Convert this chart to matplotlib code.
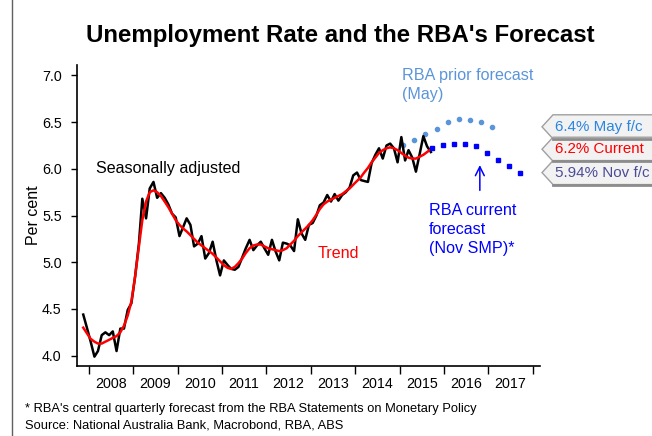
import matplotlib
matplotlib.use("Agg")
import matplotlib.pyplot as plt
import matplotlib.dates as mdates
from matplotlib.patches import Polygon
from matplotlib.transforms import IdentityTransform
from matplotlib.lines import Line2D
import pandas as pd

plt.rcParams['font.family'] = ['Liberation Sans', 'DejaVu Sans']

# monthly, Nov 2007 - Sep 2015 (per cent)
sa_rate = [
    4.44, 4.30,
    4.15, 3.99, 4.05, 4.22, 4.25, 4.22, 4.26, 4.05, 4.29, 4.29, 4.49, 4.56,
    4.85, 5.20, 5.68, 5.47, 5.79, 5.86, 5.69, 5.74, 5.69, 5.62, 5.52, 5.48,
    5.28, 5.38, 5.47, 5.40, 5.17, 5.20, 5.28, 5.04, 5.10, 5.22, 5.02, 4.86,
    5.02, 4.97, 4.93, 4.92, 4.95, 5.05, 5.15, 5.24, 5.13, 5.18, 5.22, 5.15,
    5.08, 5.24, 5.12, 5.02, 5.21, 5.20, 5.18, 5.12, 5.46, 5.31, 5.24, 5.40,
    5.42, 5.50, 5.61, 5.64, 5.72, 5.65, 5.73, 5.66, 5.72, 5.75, 5.80, 5.93,
    5.96, 5.88, 5.87, 5.86, 6.06, 6.15, 6.22, 6.11, 6.25, 6.27, 6.22, 6.07,
    6.34, 6.09, 6.20, 6.12, 5.97, 6.16, 6.35, 6.24, 6.18,
]
trend_rate = [
    4.30, 4.24,
    4.18, 4.15, 4.13, 4.13, 4.15, 4.17, 4.19, 4.21, 4.25, 4.32, 4.43, 4.58,
    4.85, 5.17, 5.45, 5.65, 5.75, 5.77, 5.75, 5.71, 5.65, 5.59, 5.52, 5.45,
    5.40, 5.36, 5.33, 5.29, 5.25, 5.21, 5.18, 5.15, 5.12, 5.09, 5.05, 5.01,
    4.97, 4.94, 4.93, 4.95, 4.99, 5.04, 5.10, 5.15, 5.18, 5.19, 5.19, 5.17,
    5.15, 5.14, 5.13, 5.12, 5.13, 5.15, 5.19, 5.23, 5.28, 5.32, 5.36, 5.40,
    5.45, 5.51, 5.57, 5.62, 5.65, 5.67, 5.69, 5.71, 5.73, 5.76, 5.79, 5.83,
    5.87, 5.91, 5.96, 6.01, 6.07, 6.12, 6.17, 6.20, 6.22, 6.23, 6.22, 6.20,
    6.17, 6.14, 6.12, 6.11, 6.11, 6.13, 6.15, 6.18, 6.21,
]
months = pd.date_range("2007-11-01", "2015-09-01", freq="MS") + pd.Timedelta(days=14)

# RBA quarterly forecasts
prior_fc = [6.25, 6.31, 6.37, 6.43, 6.50, 6.53, 6.52, 6.50, 6.45]
prior_dates = pd.date_range("2015-02-01", periods=9, freq="QS-FEB")
current_fc = [6.22, 6.26, 6.27, 6.27, 6.24, 6.17, 6.10, 6.03, 5.96]
current_dates = pd.date_range("2015-09-01", periods=9, freq="QS-SEP") + pd.Timedelta(days=20)

tag_labels = ["6.4% May f/c", "6.2% Current", "5.94% Nov f/c"]
tag_values = [prior_fc[-1], trend_rate[-1], current_fc[-1]]
tag_colors = ["#2a86e0", "#ff0000", "#4c4c96"]

prior_col = "#5b95d9"
current_col = "#0000ff"

fig = plt.figure(figsize=(6.52, 4.36), dpi=100)
ax = fig.add_axes([0.118, 0.1606, 0.710, 0.690])

ax.plot(months, sa_rate, color="black", lw=1.8, zorder=3)
ax.plot(months, trend_rate, color="#ff0000", lw=1.8, zorder=4)
ax.plot(prior_dates, prior_fc, ls="none", marker="o", ms=3.0, color=prior_col, zorder=2)
ax.plot(current_dates, current_fc, ls="none", marker="s", ms=3.0, color=current_col, zorder=5)

ax.set_ylim(3.89, 7.11)
ax.set_xlim(pd.Timestamp("2007-09-24"), pd.Timestamp("2018-02-28"))
ax.set_yticks([4.0, 4.5, 5.0, 5.5, 6.0, 6.5, 7.0])
ax.yaxis.set_major_formatter(plt.FormatStrFormatter("%.1f"))

ax.xaxis.set_major_locator(mdates.YearLocator())
ax.xaxis.set_major_formatter(plt.NullFormatter())
ax.xaxis.set_minor_locator(mdates.MonthLocator(bymonth=7))
ax.xaxis.set_minor_formatter(mdates.DateFormatter("%Y"))
ax.tick_params(axis="x", which="major", length=6, width=1, direction="out")
ax.tick_params(axis="x", which="minor", length=0, pad=8, labelsize=10.3)
ax.tick_params(axis="y", length=4, width=1, pad=7, labelsize=10.3)

for s in ["top", "right"]:
    ax.spines[s].set_visible(False)
for s in ["left", "bottom"]:
    ax.spines[s].set_linewidth(1.2)

ax.set_ylabel("Per cent", fontsize=11.5, labelpad=1)

fig.text(0.522, 0.918, "Unemployment Rate and the RBA's Forecast",
         ha="center", va="center", fontsize=17.3, fontweight="bold")

ax.text(pd.Timestamp("2008-02-25"), 6.0, "Seasonally adjusted", fontsize=11.6,
        va="center", ha="left")
ax.text(pd.Timestamp("2013-03-01"), 5.09, "Trend", fontsize=11.6, color="#ff0000",
        va="center", ha="left")
ax.text(pd.Timestamp("2015-01-20"), 7.08, "RBA prior forecast\n(May)", fontsize=11.6,
        color=prior_col, va="top", ha="left", linespacing=1.3)
ax.text(pd.Timestamp("2015-09-01"), 5.63, "RBA current\nforecast\n(Nov SMP)*",
        fontsize=11.6, color=current_col, va="top", ha="left", linespacing=1.3)
ax.annotate("", xy=(pd.Timestamp("2016-10-22"), 6.07),
            xytext=(pd.Timestamp("2016-10-22"), 5.74),
            arrowprops=dict(arrowstyle="->", color=current_col, lw=1.1,
                            mutation_scale=16))

# value tags on the right
fig.canvas.draw()
for label, val, col in zip(tag_labels, tag_values, tag_colors):
    yd = ax.transData.transform((0, val))[1]
    pts = [(542, yd), (553, yd + 12), (660, yd + 12), (660, yd - 12), (553, yd - 12)]
    fig.add_artist(Polygon(pts, closed=True, facecolor="#f2f2f2", edgecolor="#a0a0a0",
                           lw=1.0, transform=IdentityTransform()))
    fig.add_artist(Line2D([553, 660], [yd - 12, yd - 12], color="#8c8c8c", lw=2,
                          transform=IdentityTransform()))
    fig.text(555, yd, label, color=col, fontsize=10.9, va="center", ha="left",
             transform=IdentityTransform())

fig.text(0.038, 0.062, "* RBA's central quarterly forecast from the RBA Statements on Monetary Policy",
         fontsize=9.3, va="center", ha="left")
fig.text(0.038, 0.025, "Source: National Australia Bank, Macrobond, RBA, ABS",
         fontsize=9.3, va="center", ha="left")

fig.add_artist(Line2D([0.018, 0.018], [0, 1], color="#606060", lw=1,
                      transform=fig.transFigure))

fig.savefig("out.png", dpi=100)
